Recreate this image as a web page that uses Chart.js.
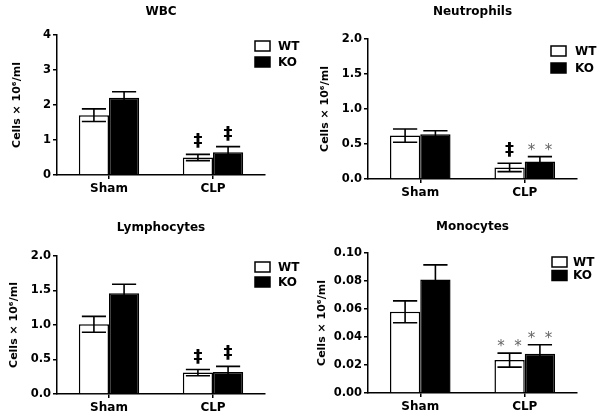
<!DOCTYPE html>
<html>
<head>
<meta charset="utf-8">
<script src="https://cdn.jsdelivr.net/npm/chart.js@4"></script>
<style>
  body { margin: 0; background: #fff; width: 600px; height: 418px; overflow: hidden; position: relative; }
  .p { position: absolute; width: 300px; height: 209px; }
</style>
</head>
<body>
<div class="p" style="left:0;top:0"><canvas id="c1" width="300" height="209"></canvas></div>
<div class="p" style="left:300px;top:0"><canvas id="c2" width="300" height="209"></canvas></div>
<div class="p" style="left:0;top:209px"><canvas id="c3" width="300" height="209"></canvas></div>
<div class="p" style="left:300px;top:209px"><canvas id="c4" width="300" height="209"></canvas></div>
<script>
// Datos
const groups = ['Sham', 'CLP'];
const series = ['WT', 'KO'];
const yTitle = 'Cells \u00d7 10\u2076/ml';

const wbcWT = [1.71, 0.50];
const wbcWTerr = [0.18, 0.09];
const wbcKO = [2.21, 0.65];
const wbcKOerr = [0.17, 0.16];
const wbcTicks = [0, 1, 2, 3, 4];
const wbcLabels = ['0', '1', '2', '3', '4'];

const neutWT = [0.62, 0.165];
const neutWTerr = [0.095, 0.06];
const neutKO = [0.64, 0.25];
const neutKOerr = [0.05, 0.07];
const neutTicks = [0, 0.5, 1.0, 1.5, 2.0];
const neutLabels = ['0.0', '0.5', '1.0', '1.5', '2.0'];

const lymphWT = [1.01, 0.31];
const lymphWTerr = [0.115, 0.045];
const lymphKO = [1.46, 0.32];
const lymphKOerr = [0.13, 0.08];
const lymphTicks = [0, 0.5, 1.0, 1.5, 2.0];
const lymphLabels = ['0.0', '0.5', '1.0', '1.5', '2.0'];

const monoWT = [0.058, 0.0235];
const monoWTerr = [0.0078, 0.005];
const monoKO = [0.081, 0.028];
const monoKOerr = [0.0105, 0.0065];
const monoTicks = [0, 0.02, 0.04, 0.06, 0.08, 0.10];
const monoLabels = ['0.00', '0.02', '0.04', '0.06', '0.08', '0.10'];

// marcas de significancia encima de las barras
const wbcMarks = [['', '\u2021'], ['', '\u2021']];
const neutMarks = [['', '\u2021'], ['', '*  *']];
const lymphMarks = [['', '\u2021'], ['', '\u2021']];
const monoMarks = [['', '*  *'], ['', '*  *']];

const FONT = 'DejaVu Sans';

// barras de error + marcas
const errorBars = {
  id: 'errorBars',
  afterDatasetsDraw(chart) {
    const ctx = chart.ctx;
    const y = chart.scales.y;
    chart.data.datasets.forEach((ds, i) => {
      const meta = chart.getDatasetMeta(i);
      meta.data.forEach((bar, j) => {
        const v = ds.data[j], e = ds.errors[j];
        const top = y.getPixelForValue(v + e);
        const bot = y.getPixelForValue(v - e);
        const cw = bar.width * 0.8 / 2;
        ctx.save();
        ctx.strokeStyle = '#000';
        ctx.lineWidth = 1.6;
        ctx.beginPath();
        ctx.moveTo(bar.x, bot); ctx.lineTo(bar.x, top);
        ctx.moveTo(bar.x - cw, top); ctx.lineTo(bar.x + cw, top);
        ctx.moveTo(bar.x - cw, bot); ctx.lineTo(bar.x + cw, bot);
        ctx.stroke();
        const m = ds.marks[j];
        if (m) {
          const star = m.indexOf('*') >= 0;
          ctx.font = star ? '15px ' + FONT : 'bold 18px ' + FONT;
          ctx.fillStyle = star ? '#666' : '#000';
          ctx.textAlign = 'center';
          ctx.textBaseline = 'alphabetic';
          const d = ctx.measureText(m).actualBoundingBoxDescent;
          ctx.fillText(m, bar.x, top - 6 - d);
        }
        ctx.restore();
      });
    });
  }
};

function makeChart(id, title, wt, wtErr, ko, koErr, marks, ticks, labels, box, lg) {
  const legendBox = {
    id: 'legendBox',
    afterDraw(chart) {
      const ctx = chart.ctx;
      ctx.save();
      chart.data.datasets.forEach((ds, i) => {
        const by = lg.y + i * lg.dy;
        ctx.fillStyle = ds.backgroundColor;
        ctx.fillRect(lg.x, by, 15, 10);
        ctx.strokeStyle = '#000';
        ctx.lineWidth = 1.5;
        ctx.strokeRect(lg.x, by, 15, 10);
        ctx.fillStyle = '#000';
        ctx.font = 'bold 12px ' + FONT;
        ctx.textBaseline = 'middle';
        ctx.fillText(ds.label, lg.tx, by + 5.5);
      });
      ctx.restore();
    }
  };

  return new Chart(document.getElementById(id), {
    type: 'bar',
    data: {
      labels: groups,
      datasets: [
        { label: series[0], data: wt, errors: wtErr, marks: marks[0],
          backgroundColor: '#fff', borderColor: '#000', borderWidth: 1.5 },
        { label: series[1], data: ko, errors: koErr, marks: marks[1],
          backgroundColor: '#000', borderColor: '#000', borderWidth: 1.5 }
      ]
    },
    options: {
      responsive: false,
      animation: false,
      devicePixelRatio: 1,
      categoryPercentage: 0.58,
      barPercentage: 1.0,
      layout: { padding: { left: 0, right: 300 - box.right, top: 0, bottom: 0 } },
      plugins: {
        legend: { display: false },
        tooltip: { enabled: false },
        title: {
          display: true, text: title, fullSize: false, color: '#000',
          font: { family: FONT, size: 12, weight: 'bold', lineHeight: 1.2 },
          padding: { top: box.titleY - 7.2, bottom: box.top - box.titleY - 7.2 }
        }
      },
      scales: {
        x: {
          offset: true,
          grid: { display: true, drawOnChartArea: false, offset: false, tickLength: 4, color: '#000', lineWidth: 1.5 },
          border: { display: true, color: '#000', width: 1.5 },
          ticks: { color: '#000', padding: 3, font: { family: FONT, size: 12, weight: 'bold' } },
          afterFit(s) { s.height = 209 - box.bottom; }
        },
        y: {
          min: ticks[0], max: ticks[ticks.length - 1],
          afterBuildTicks(s) { s.ticks = ticks.map(v => ({ value: v })); },
          grid: { display: true, drawOnChartArea: false, tickLength: 4, color: '#000', lineWidth: 1.5 },
          border: { display: true, color: '#000', width: 1.5 },
          ticks: { color: '#000', padding: 2, autoSkip: false,
                   font: { family: FONT, size: 11.5, weight: 'bold' },
                   callback: (v, i) => labels[i] },
          title: { display: true, text: yTitle, color: '#000',
                   font: { family: FONT, size: 11, weight: 'bold', lineHeight: 1.2 },
                   padding: { top: box.yTitleX - 6.6, bottom: 0 } },
          afterFit(s) { s.width = box.left; }
        }
      }
    },
    plugins: [errorBars, legendBox]
  });
}

makeChart('c1', 'WBC', wbcWT, wbcWTerr, wbcKO, wbcKOerr, wbcMarks, wbcTicks, wbcLabels,
  { left: 57, right: 265, top: 35, bottom: 175, titleY: 12, yTitleX: 17 },
  { x: 255, y: 41, dy: 16, tx: 278 });
makeChart('c2', 'Neutrophils', neutWT, neutWTerr, neutKO, neutKOerr, neutMarks, neutTicks, neutLabels,
  { left: 68, right: 277, top: 39, bottom: 179, titleY: 12, yTitleX: 25 },
  { x: 251, y: 46, dy: 17, tx: 275 });
makeChart('c3', 'Lymphocytes', lymphWT, lymphWTerr, lymphKO, lymphKOerr, lymphMarks, lymphTicks, lymphLabels,
  { left: 57, right: 265, top: 47, bottom: 185, titleY: 19, yTitleX: 14.5 },
  { x: 255, y: 53, dy: 15, tx: 278 });
makeChart('c4', 'Monocytes', monoWT, monoWTerr, monoKO, monoKOerr, monoMarks, monoTicks, monoLabels,
  { left: 68, right: 277, top: 44, bottom: 184, titleY: 18, yTitleX: 22.5 },
  { x: 252, y: 48, dy: 13.5, tx: 273 });
</script>
</body>
</html>
